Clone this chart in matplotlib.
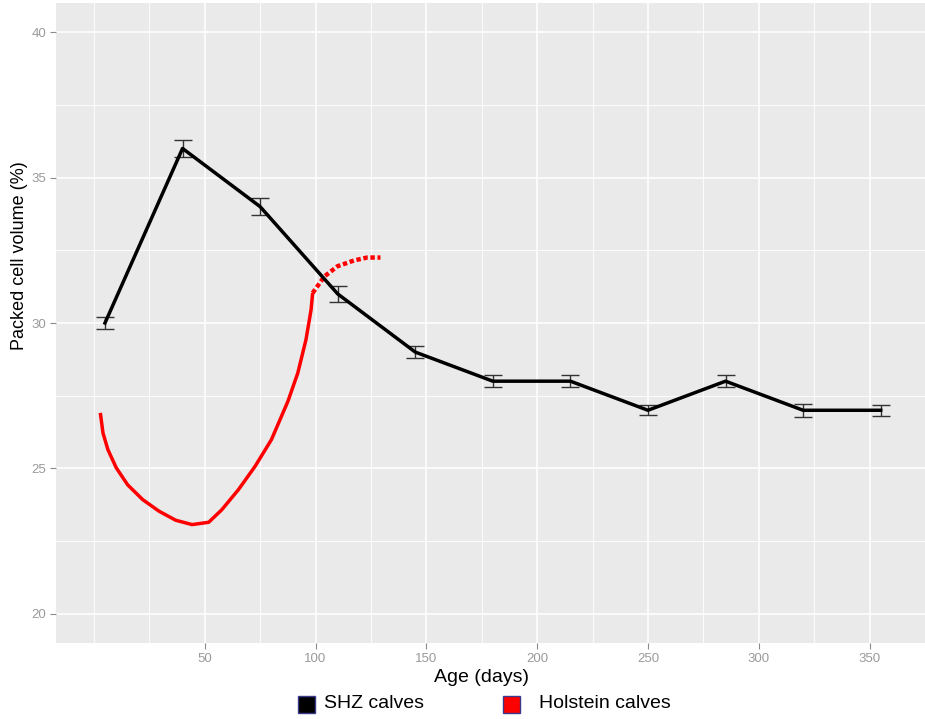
import numpy as np
import matplotlib.pyplot as plt
from matplotlib.patches import Rectangle

plt.rcParams["font.family"] = ["Liberation Sans", "DejaVu Sans"]

# SHZ calves: means with error bars
shz_age = [5, 40, 75, 110, 145, 180, 215, 250, 285, 320, 355]
shz_pcv = [30.0, 36.0, 34.0, 31.0, 29.0, 28.0, 28.0, 27.0, 28.0, 27.0, 27.0]
shz_err = [0.2, 0.28, 0.28, 0.28, 0.22, 0.2, 0.2, 0.17, 0.2, 0.22, 0.18]

# Holstein calves: fitted curve (solid part)
hol_age = [2.9, 4.1, 6.3, 10.1, 15.2, 22.0, 29.4, 36.9, 44.3, 51.8, 57.7,
           65.2, 72.7, 80.1, 87.5, 92.0, 95.7, 98.0, 98.7]
hol_pcv = [26.91, 26.22, 25.65, 25.02, 24.44, 23.93, 23.53, 23.22, 23.07,
           23.15, 23.58, 24.27, 25.07, 25.99, 27.3, 28.28, 29.43, 30.46, 31.03]
# dotted continuation
hol_age_dot = [98.7, 104.0, 109.9, 117.4, 123.3, 129.3]
hol_pcv_dot = [31.03, 31.6, 31.95, 32.15, 32.25, 32.25]

W, H = 925, 719
fig = plt.figure(figsize=(W / 100, H / 100), dpi=100)
ax = fig.add_axes([56 / W, 1 - 643 / H, 1 - 56 / W, 640 / H])
ax.set_facecolor("#EAEAEA")

ax.set_xlim(-17.1, 371.4)
ax.set_ylim(19.0, 41.0)
ax.set_xticks([50, 100, 150, 200, 250, 300, 350])
ax.set_xticks(np.arange(0, 400, 25), minor=True)
ax.set_yticks([20, 25, 30, 35, 40])
ax.set_yticks([22.5, 27.5, 32.5, 37.5], minor=True)
ax.grid(which="major", color="white", linewidth=1.1)
ax.grid(which="minor", color="white", linewidth=0.6)
ax.set_axisbelow(True)
ax.tick_params(which="major", length=4, width=0.8, color="#8c8c8c",
               labelcolor="#9a9a9a", labelsize=9.5, pad=3)
ax.tick_params(which="minor", length=0)
for s in ax.spines.values():
    s.set_visible(False)

ax.plot(hol_age, hol_pcv, color="red", linewidth=2.5, solid_capstyle="butt",
        solid_joinstyle="round")
ax.plot(hol_age_dot, hol_pcv_dot, color="red", linewidth=3.2,
        linestyle=(0, (1.0, 0.6)), dash_capstyle="butt")

ax.errorbar(shz_age, shz_pcv, yerr=shz_err, fmt="none", ecolor="#333333",
            elinewidth=1.0, capsize=6.4, capthick=1.0)
ax.plot(shz_age, shz_pcv, color="black", linewidth=2.5)

fig.text(20 / W, 1 - 256 / H, "Packed cell volume (%)", rotation=90,
         ha="center", va="center", fontsize=13)
fig.text(482 / W, 1 - 677 / H, "Age (days)", ha="center", va="center",
         fontsize=14)

# legend at bottom
for x0, fc, label, tx in [(298, "black", "SHZ calves", 324),
                          (503, "red", "Holstein calves", 539)]:
    fig.patches.append(Rectangle((x0 / W, 1 - 713 / H), 17 / W, 17 / H,
                                 transform=fig.transFigure, facecolor=fc,
                                 edgecolor="#3a3a8c", linewidth=1.0))
    fig.text(tx / W, 1 - 704 / H, label, ha="left", va="center", fontsize=14)

fig.savefig("out.png", dpi=100)
